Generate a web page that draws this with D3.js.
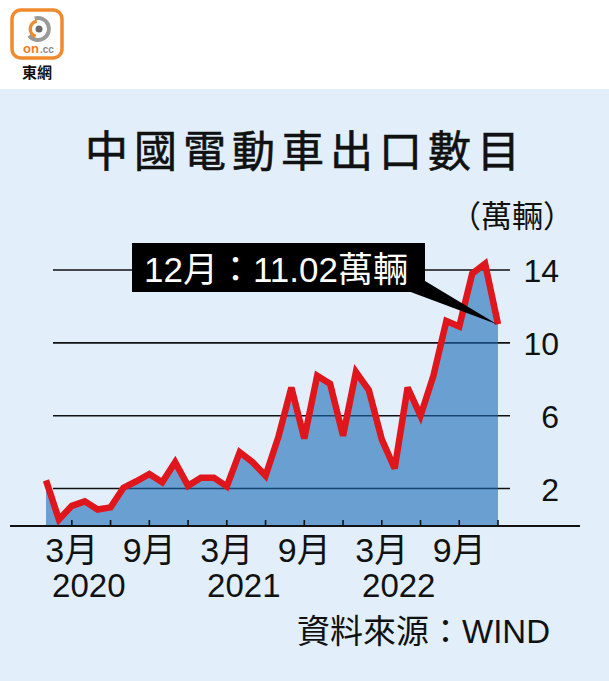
<!DOCTYPE html>
<html>
<head>
<meta charset="utf-8">
<script src="https://cdn.jsdelivr.net/npm/d3@7"></script>
<style>
  html, body { margin: 0; padding: 0; background: #ffffff; }
  svg { display: block; }
  text { font-family: "Liberation Sans", Arial, "Noto Sans CJK TC", sans-serif; }
</style>
</head>
<body>
<svg id="chart" width="609" height="681"></svg>
<script>
// ---- data ----
const title = "中國電動車出口數目";
const unitLabel = "（萬輛）";
const sourceLabel = "資料來源：WIND";
const years = ["2020", "2021", "2022"];
const monthLabels = ["3月", "9月"];
// monthly exports Jan 2020 – Dec 2022 (萬輛)
const values2020 = [2.45, 0.3, 1.05, 1.3, 0.85, 0.97, 2.05, 2.4, 2.8, 2.35, 3.45, 2.15];
const values2021 = [2.6, 2.6, 2.12, 4.0, 3.45, 2.7, 4.85, 7.55, 4.75, 8.2, 7.75, 4.9];
const values2022 = [8.4, 7.4, 4.7, 3.1, 7.55, 6.0, 8.2, 11.2, 10.9, 13.8, 14.35, 11.02];
const yTicks = [2, 6, 10, 14];
const calloutText = "12月：11.02萬輛";

const values = values2020.concat(values2021, values2022);
const data = values.map((v, i) => ({ i, v }));

const svg = d3.select("#chart");
const W = 609, H = 681;

// background panel
svg.append("rect").attr("x", 0).attr("y", 0).attr("width", W).attr("height", H).attr("fill", "#ffffff");
svg.append("rect").attr("x", 0).attr("y", 89).attr("width", W).attr("height", H - 89).attr("fill", "#e2effa");

// ---- logo ----
const logo = svg.append("g");
logo.append("rect").attr("x", 12).attr("y", 10).attr("width", 50).attr("height", 48).attr("rx", 9)
  .attr("fill", "#ffffff").attr("stroke", "#ef8a2e").attr("stroke-width", 3.5);
const arc = d3.arc();
logo.append("path").attr("transform", "translate(38,29)")
  .attr("d", arc({ innerRadius: 9, outerRadius: 13, startAngle: -0.3, endAngle: Math.PI * 1.3 }))
  .attr("fill", "#9a9a9a");
logo.append("path").attr("transform", "translate(38,29)")
  .attr("d", arc({ innerRadius: 6, outerRadius: 9.5, startAngle: Math.PI * 1.1, endAngle: Math.PI * 1.95 }))
  .attr("fill", "#ef8a2e");
logo.append("circle").attr("cx", 39).attr("cy", 29).attr("r", 3.5).attr("fill", "#6b6b6b");
logo.append("text").attr("x", 23).attr("y", 53).attr("font-size", 13).attr("font-weight", "bold")
  .attr("fill", "#ef7d22").text("on");
logo.append("text").attr("x", 40).attr("y", 53).attr("font-size", 10).attr("font-weight", "bold")
  .attr("fill", "#8a8a8a").text(".cc");
logo.append("text").attr("x", 37).attr("y", 78).attr("text-anchor", "middle")
  .attr("font-size", 15).attr("font-weight", "bold").attr("fill", "#111").text("東網");

// ---- titles ----
svg.append("text").attr("x", 85).attr("y", 167).attr("font-size", 43)
  .attr("letter-spacing", 6).attr("fill", "#111")
  .attr("stroke", "#111").attr("stroke-width", 0.6).text(title);
svg.append("text").attr("x", 574).attr("y", 227).attr("text-anchor", "end")
  .attr("font-size", 31).attr("fill", "#111").text(unitLabel);

// ---- scales ----
const x = d3.scaleLinear().domain([0, values.length - 1]).range([46, 498]);
const y = d3.scaleLinear().domain([0, 14]).range([525, 270]);

// gridlines
svg.append("g").selectAll("line").data(yTicks).join("line")
  .attr("x1", 53).attr("x2", 510)
  .attr("y1", d => y(d)).attr("y2", d => y(d))
  .attr("stroke", "#111").attr("stroke-width", 1.6);

// y labels
svg.append("g").selectAll("text").data(yTicks).join("text")
  .attr("x", 559).attr("y", d => y(d) + 12)
  .attr("text-anchor", "end").attr("font-size", 32).attr("fill", "#111")
  .text(d => d);

// area
const area = d3.area().x(d => x(d.i)).y0(y(0)).y1(d => y(d.v));
svg.append("path").datum(data).attr("d", area)
  .attr("fill", "rgb(26,105,184)").attr("fill-opacity", 0.6);

// x axis baseline
svg.append("line").attr("x1", 10).attr("x2", 580).attr("y1", 526).attr("y2", 526)
  .attr("stroke", "#111").attr("stroke-width", 2);

// ticks every 3 months (Mar, Jun, Sep, Dec)
const tickIdx = d3.range(2, values.length, 3);
svg.append("g").selectAll("line").data(tickIdx).join("line")
  .attr("x1", d => x(d)).attr("x2", d => x(d))
  .attr("y1", 520).attr("y2", 526)
  .attr("stroke", "#111").attr("stroke-width", 1.6);

// month labels (Mar and Sep of each year)
const labelIdx = [];
years.forEach((yr, k) => {
  labelIdx.push({ i: k * 12 + 2, t: monthLabels[0] });
  labelIdx.push({ i: k * 12 + 8, t: monthLabels[1] });
});
svg.append("g").selectAll("text").data(labelIdx).join("text")
  .attr("x", d => x(d.i)).attr("y", 562)
  .attr("text-anchor", "middle").attr("font-size", 34).attr("fill", "#111")
  .text(d => d.t);

// year labels
svg.append("g").selectAll("text").data(years).join("text")
  .attr("x", (d, k) => x(k * 12 + 2) + 17).attr("y", 597)
  .attr("text-anchor", "middle").attr("font-size", 33).attr("fill", "#111")
  .text(d => d);

// red line
const line = d3.line().x(d => x(d.i)).y(d => y(d.v));
svg.append("path").datum(data).attr("d", line)
  .attr("fill", "none").attr("stroke", "#e0161d").attr("stroke-width", 6.5)
  .attr("stroke-linejoin", "miter").attr("stroke-miterlimit", 3);

// callout
const last = data[data.length - 1];
svg.append("path")
  .attr("d", `M408,291 L425,281 L${x(last.i) - 1},${y(last.v)} Z`)
  .attr("fill", "#000");
svg.append("rect").attr("x", 132).attr("y", 243).attr("width", 293).attr("height", 49).attr("fill", "#000");
svg.append("text").attr("x", 144).attr("y", 282).attr("font-size", 35).attr("fill", "#fff")
  .text(calloutText);

// source
svg.append("text").attr("x", 550).attr("y", 643).attr("text-anchor", "end")
  .attr("font-size", 33).attr("fill", "#111").text(sourceLabel);
</script>
</body>
</html>
